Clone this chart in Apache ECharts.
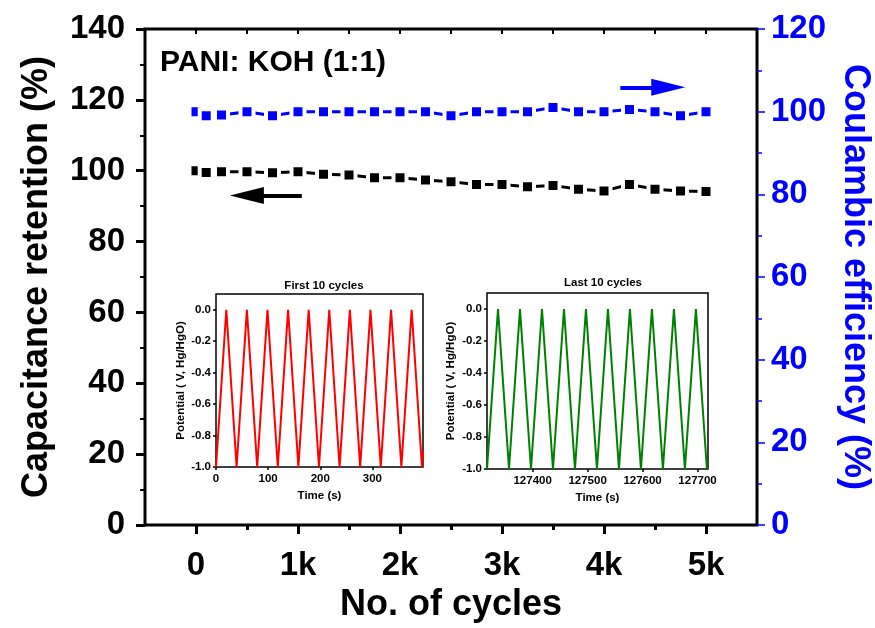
<!DOCTYPE html>
<html>
<head>
<meta charset="utf-8">
<script src="https://cdn.jsdelivr.net/npm/echarts@6/dist/echarts.min.js"></script>
<style>html,body{margin:0;padding:0;background:#fff}#c{width:875px;height:628px}</style>
</head>
<body>
<div id="c"></div>
<script>
// ---- main chart data ----
const cycles     = [0, 100, 250, 500, 750, 1000, 1250, 1500, 1750, 2000, 2250, 2500, 2750, 3000, 3250, 3500, 3750, 4000, 4250, 4500, 4750, 5000];
const retention  = [100, 99.5, 99.7, 99.7, 99.4, 99.7, 99.0, 98.8, 98.0, 98.0, 97.4, 96.9, 96.1, 96.1, 95.5, 95.8, 94.8, 94.3, 96.1, 94.8, 94.3, 94.1];
const efficiency = [100, 99.0, 99.2, 100, 99.0, 100, 100, 100, 100, 100, 100, 99.0, 100, 100, 100, 101, 100, 100, 100.5, 100, 99.0, 100];
const xTickValues = [0, 1000, 2000, 3000, 4000, 5000];
const xTickLabels = ['0', '1k', '2k', '3k', '4k', '5k'];
const xMinorValues = [500, 1500, 2500, 3500, 4500];
// arrows (annotation, data coords)
const leftArrow  = [[1037, 93.0], [499, 93.0]];
const rightArrow = [[4160, 105.9], [4630, 105.9]];

// ---- inset data ----
const firstTime = [0, 19.75, 39.5, 59.25, 79, 98.75, 118.5, 138.25, 158, 177.75, 197.5, 217.25, 237, 256.75, 276.5, 296.25, 316, 335.75, 355.5, 375.25, 395, 397];
const firstV    = [-1, 0, -1, 0, -1, 0, -1, 0, -1, 0, -1, 0, -1, 0, -1, 0, -1, 0, -1, 0, -1, -0.9];
const lastTime  = [127317, 127337, 127357, 127377, 127397, 127417, 127437, 127457, 127477, 127497, 127517, 127537, 127557, 127577, 127597, 127617, 127637, 127657, 127677, 127697, 127717];
const lastV     = [-1, 0, -1, 0, -1, 0, -1, 0, -1, 0, -1, 0, -1, 0, -1, 0, -1, 0, -1, 0, -1];
const insetYTicks = [-1.0, -0.8, -0.6, -0.4, -0.2, 0.0];
const firstXTicks = [0, 100, 200, 300];
const lastXTicks  = [127400, 127500, 127600, 127700];

const FONT = "'Liberation Sans', Arial, sans-serif";
const BLUE = '#0000ff';

const chart = echarts.init(document.getElementById('c'), null, {renderer: 'canvas'});

function insetX(grid, min, max, ticks, gap) {
  return {
    type: 'value', gridIndex: grid, min: min, max: max, position: 'bottom',
    name: 'Time (s)', nameLocation: 'middle', nameGap: gap,
    nameTextStyle: {fontFamily: FONT, fontWeight: 'bold', fontSize: 11.5, color: '#000'},
    axisLine: {show: false, onZero: false},
    axisTick: {show: true, customValues: ticks, inside: false, length: 3, lineStyle: {color: '#000', width: 1.5}},
    axisLabel: {customValues: ticks, margin: 6, fontFamily: FONT, fontWeight: 'bold', fontSize: 11.5, color: '#000',
      formatter: v => String(v)},
    splitLine: {show: false}
  };
}
function insetY(grid, gap) {
  return {
    type: 'value', gridIndex: grid, min: -1.0, max: 0.1, position: 'left',
    name: 'Potential ( V, Hg/HgO)', nameLocation: 'middle', nameGap: gap, nameRotate: 90,
    nameTextStyle: {fontFamily: FONT, fontWeight: 'bold', fontSize: 11.5, color: '#000'},
    axisLine: {show: false, onZero: false},
    axisTick: {show: true, customValues: insetYTicks, length: 3, lineStyle: {color: '#000', width: 1.5}},
    axisLabel: {customValues: insetYTicks, margin: 5, fontFamily: FONT, fontWeight: 'bold', fontSize: 11.5, color: '#000',
      formatter: v => v.toFixed(1)},
    splitLine: {show: false}
  };
}

const option = {
  animation: false,
  backgroundColor: '#fff',
  textStyle: {fontFamily: FONT},
  title: [
    {text: 'PANI: KOH (1:1)', left: 160, top: 48, padding: 0, textStyle: {fontFamily: FONT, fontWeight: 'bold', fontSize: 30, color: '#000'}},
    {text: 'First 10 cycles', left: 319, top: 275, textAlign: 'center', textStyle: {fontFamily: FONT, fontWeight: 'bold', fontSize: 11.5, color: '#000'}},
    {text: 'Last 10 cycles', left: 598, top: 272, textAlign: 'center', textStyle: {fontFamily: FONT, fontWeight: 'bold', fontSize: 11.5, color: '#000'}}
  ],
  grid: [
    {left: 145, top: 29, width: 612, height: 496, show: true, borderColor: '#000', borderWidth: 3, backgroundColor: '#fff', outerBoundsMode: 'none', containLabel: false},
    {left: 216, top: 294, width: 207, height: 173, show: true, borderColor: '#000', borderWidth: 1.5, backgroundColor: '#fff', outerBoundsMode: 'none', containLabel: false},
    {left: 487, top: 293, width: 221, height: 176, show: true, borderColor: '#000', borderWidth: 1.5, backgroundColor: '#fff', outerBoundsMode: 'none', containLabel: false}
  ],
  xAxis: [
    { // main bottom: labels + major ticks
      type: 'value', gridIndex: 0, min: -500, max: 5500, interval: 500, position: 'bottom',
      name: 'No. of cycles', nameLocation: 'middle', nameGap: 62,
      nameTextStyle: {fontFamily: FONT, fontWeight: 'bold', fontSize: 36, color: '#000'},
      axisLine: {show: false, onZero: false},
      axisTick: {show: true, customValues: xTickValues, length: 9, lineStyle: {color: '#000', width: 3}},
      axisLabel: {customValues: xTickValues, margin: 24, fontFamily: FONT, fontWeight: 'bold', fontSize: 33, color: '#000',
        formatter: v => xTickLabels[xTickValues.indexOf(v)]},
      splitLine: {show: false}
    },
    { // main bottom minor ticks
      type: 'value', gridIndex: 0, min: -500, max: 5500, interval: 500, position: 'bottom',
      axisLine: {show: false, onZero: false},
      axisTick: {show: true, customValues: xMinorValues, length: 5, lineStyle: {color: '#000', width: 3}},
      axisLabel: {show: false}, splitLine: {show: false}
    },
    { // main top inward ticks
      type: 'value', gridIndex: 0, min: -500, max: 5500, interval: 500, position: 'top',
      axisLine: {show: false, onZero: false},
      axisTick: {show: true, inside: true, customValues: xTickValues.concat(xMinorValues), length: 5, lineStyle: {color: '#000', width: 2}},
      axisLabel: {show: false}, splitLine: {show: false}
    },
    insetX(1, 0, 397, firstXTicks, 23),
    insetX(2, 127317, 127719, lastXTicks, 23)
  ],
  yAxis: [
    {
      type: 'value', gridIndex: 0, min: 0, max: 140, interval: 20, position: 'left',
      name: 'Capacitance retention (%)', nameLocation: 'middle', nameGap: 90, nameRotate: 90,
      nameTextStyle: {fontFamily: FONT, fontWeight: 'bold', fontSize: 36, color: '#000'},
      axisLine: {show: false, onZero: false},
      axisTick: {show: true, length: 9, lineStyle: {color: '#000', width: 3}},
      minorTick: {show: true, splitNumber: 2, length: 5, lineStyle: {color: '#000', width: 2}},
      axisLabel: {margin: 20, fontFamily: FONT, fontWeight: 'bold', fontSize: 33, color: '#000'},
      splitLine: {show: false}
    },
    {
      type: 'value', gridIndex: 0, min: 0, max: 120, interval: 20, position: 'right',
      name: 'Coulambic efficiency (%)', nameLocation: 'middle', nameGap: 74, nameRotate: -90,
      nameTextStyle: {fontFamily: FONT, fontWeight: 'bold', fontSize: 36, color: BLUE},
      axisLine: {show: false, onZero: false},
      axisTick: {show: true, length: 8, lineStyle: {color: BLUE, width: 1.5}},
      minorTick: {show: true, splitNumber: 2, length: 5, lineStyle: {color: BLUE, width: 1.5}},
      axisLabel: {margin: 14, fontFamily: FONT, fontWeight: 'bold', fontSize: 33, color: BLUE},
      splitLine: {show: false}
    },
    insetY(1, 29),
    insetY(2, 30)
  ],
  series: [
    {
      type: 'line', xAxisIndex: 0, yAxisIndex: 0,
      data: cycles.map((c, i) => [c, retention[i]]),
      symbol: 'rect', symbolSize: 13,
      itemStyle: {color: '#000', borderColor: '#fff', borderWidth: 4},
      lineStyle: {color: '#000', width: 3},
      emphasis: {disabled: true}, silent: true,
      markLine: {
        silent: true, symbol: ['none', 'triangle'], symbolSize: [17, 34],
        label: {show: false}, emphasis: {disabled: true},
        lineStyle: {color: '#000', width: 4, type: 'solid'},
        data: [[{coord: leftArrow[0]}, {coord: leftArrow[1]}]]
      }
    },
    {
      type: 'line', xAxisIndex: 0, yAxisIndex: 1,
      data: cycles.map((c, i) => [c, efficiency[i]]),
      symbol: 'rect', symbolSize: 13,
      itemStyle: {color: BLUE, borderColor: '#fff', borderWidth: 4},
      lineStyle: {color: BLUE, width: 3},
      emphasis: {disabled: true}, silent: true,
      markLine: {
        silent: true, symbol: ['none', 'triangle'], symbolSize: [17, 34],
        label: {show: false}, emphasis: {disabled: true},
        lineStyle: {color: BLUE, width: 4, type: 'solid'},
        data: [[{coord: rightArrow[0]}, {coord: rightArrow[1]}]]
      }
    },
    {
      type: 'line', xAxisIndex: 3, yAxisIndex: 2,
      data: firstTime.map((t, i) => [t, firstV[i]]),
      showSymbol: false, lineStyle: {color: '#ff0000', width: 2}, itemStyle: {color: '#ff0000'},
      emphasis: {disabled: true}, silent: true
    },
    {
      type: 'line', xAxisIndex: 4, yAxisIndex: 3,
      data: lastTime.map((t, i) => [t, lastV[i]]),
      showSymbol: false, lineStyle: {color: '#008000', width: 2}, itemStyle: {color: '#008000'},
      emphasis: {disabled: true}, silent: true
    }
  ]
};
chart.setOption(option);
</script>
</body>
</html>
